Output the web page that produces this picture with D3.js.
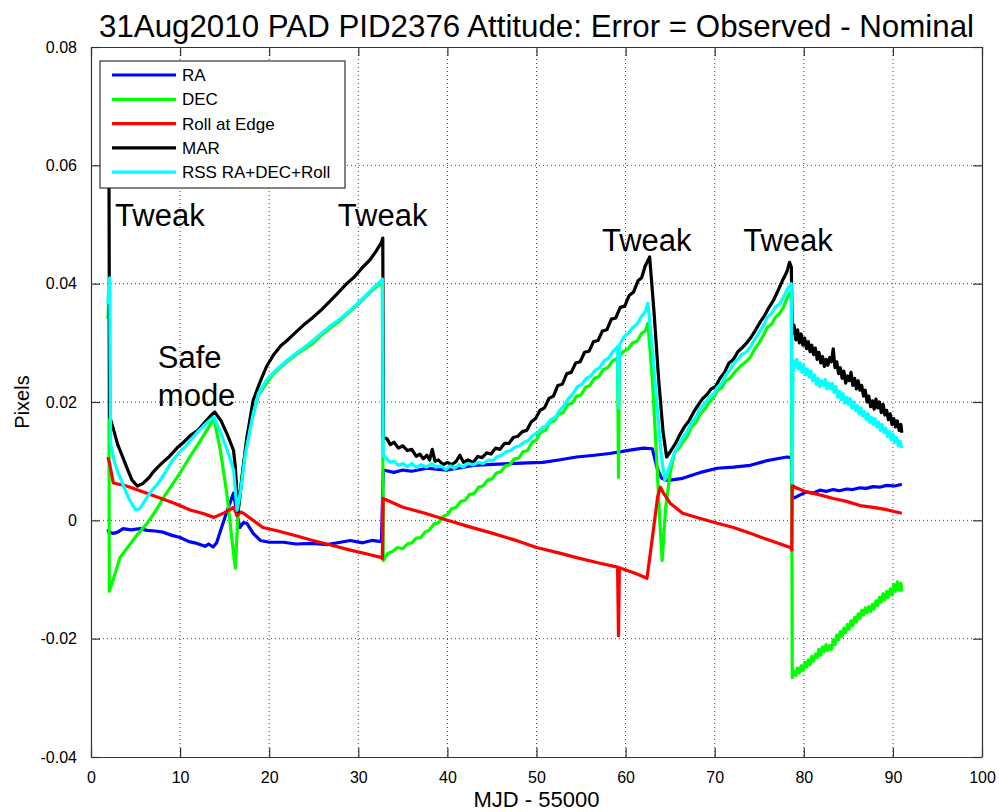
<!DOCTYPE html>
<html>
<head>
<meta charset="utf-8">
<script src="https://cdn.jsdelivr.net/npm/d3@7"></script>
<style>
  html, body { margin: 0; padding: 0; background: #fff; }
  svg { display: block; }
  text { font-family: "Liberation Sans", Arial, Helvetica, sans-serif; }
</style>
</head>
<body>
<svg id="chart" width="999" height="812"></svg>
<script>
// ---------------- data (day = MJD - 55000, value in pixels) ----------------
const titleText = "31Aug2010 PAD PID2376 Attitude: Error = Observed - Nominal";
const xLabel = "MJD - 55000";
const yLabel = "Pixels";
const xTicks = [0, 10, 20, 30, 40, 50, 60, 70, 80, 90, 100];
const yTicks = [-0.04, -0.02, 0, 0.02, 0.04, 0.06, 0.08];
const yTickLabels = ["-0.04", "-0.02", "0", "0.02", "0.04", "0.06", "0.08"];

const seriesNames = ["RA", "DEC", "Roll at Edge", "MAR", "RSS RA+DEC+Roll"];
const seriesColors = ["#0000ff", "#00ff00", "#ff0000", "#000000", "#00ffff"];

const raData = [[1.9,-0.0015],[2.0,-0.0020],[2.5,-0.0022],[3.0,-0.0020],[3.6,-0.0014],[4.5,-0.0016],[5.5,-0.0014],[6.3,-0.0017],[7.2,-0.0018],[8.1,-0.0020],[9.0,-0.0025],[10.0,-0.0029],[11.0,-0.0036],[11.9,-0.0039],[12.8,-0.0044],[13.2,-0.0040],[13.7,-0.0045],[14.1,-0.0038],[14.7,-0.0010],[15.3,0.0017],[16.0,0.0046],[16.4,0.0010],[16.7,-0.0012],[17.1,-0.0004],[17.5,-0.0005],[18.2,-0.0022],[19.0,-0.0034],[20.0,-0.0037],[21.6,-0.0037],[23.0,-0.0040],[24.9,-0.0039],[26.5,-0.0041],[28.0,-0.0037],[29.1,-0.0034],[30.5,-0.0038],[31.5,-0.0034],[32.6,-0.0036],[32.8,0.0085],[34.0,0.0081],[35.0,0.0085],[36.0,0.0083],[37.7,0.0088],[39.0,0.0086],[40.0,0.0085],[41.5,0.0089],[42.9,0.0093],[44.5,0.0094],[47.0,0.0096],[49.0,0.0097],[50.7,0.0098],[52.5,0.0102],[54.5,0.0107],[56.5,0.0110],[58.2,0.0113],[59.5,0.0116],[61.0,0.0120],[62.0,0.0122],[63.0,0.0121],[63.5,0.0090],[64.0,0.0072],[64.5,0.0068],[65.0,0.0068],[66.4,0.0071],[68.4,0.0081],[70.3,0.0088],[72.1,0.0090],[74.0,0.0093],[75.9,0.0101],[77.0,0.0104],[78.1,0.0107],[78.6,0.0106],[78.7,0.0037],[79.2,0.0040],[80.3,0.0048],[81.0,0.0046],[81.8,0.0051],[82.5,0.0049],[83.3,0.0052],[84.0,0.0050],[84.8,0.0053],[85.5,0.0052],[86.3,0.0055],[87.0,0.0054],[87.8,0.0057],[88.5,0.0056],[89.3,0.0059],[90.2,0.0058],[91.0,0.0061]];

const decData = [[1.9,0.0340],[2.0,0.0375],[2.05,-0.0120],[2.5,-0.0100],[3.25,-0.0063],[4.0,-0.0048],[5.0,-0.0028],[6.3,-0.0005],[7.3,0.0017],[8.2,0.0040],[9.1,0.0060],[10.0,0.0080],[11.0,0.0105],[12.0,0.0128],[12.9,0.0150],[13.8,0.0172],[14.5,0.0120],[15.3,0.0039],[15.8,-0.0030],[16.2,-0.0081],[16.5,0.0010],[17.0,0.0080],[17.5,0.0140],[18.2,0.0178],[18.8,0.0212],[19.7,0.0232],[20.5,0.0248],[21.2,0.0258],[22.0,0.0268],[23.0,0.0280],[24.0,0.0290],[24.9,0.0299],[26.0,0.0315],[27.0,0.0327],[27.9,0.0337],[28.7,0.0348],[29.6,0.0360],[30.5,0.0373],[31.5,0.0388],[32.6,0.0402],[32.7,0.0404],
  [32.8,-0.0068],[33.3,-0.0056],[33.9,-0.0052],[34.4,-0.0046],[35.0,-0.0048],[35.5,-0.0040],[36.0,-0.0038],[36.5,-0.0030],[37.0,-0.0029],[37.5,-0.0020],[38.0,-0.0016],[38.5,-0.0006],[39.0,-0.0004],[39.5,0.0006],[40.0,0.0010],[40.5,0.0020],[41.0,0.0022],[41.5,0.0032],[42.0,0.0034],[42.5,0.0044],[43.0,0.0045],[43.5,0.0056],[44.0,0.0058],[44.5,0.0068],[45.0,0.0070],[45.5,0.0080],[46.0,0.0082],[46.5,0.0092],[47.0,0.0094],[47.5,0.0104],[48.0,0.0105],[48.5,0.0116],[49.0,0.0118],[49.5,0.0132],[50.0,0.0136],[50.5,0.0150],[51.0,0.0152],[51.5,0.0166],[52.0,0.0168],[52.5,0.0180],[53.0,0.0182],[53.5,0.0196],[54.0,0.0198],[54.5,0.0210],[55.0,0.0212],[55.5,0.0225],[56.0,0.0228],[56.5,0.0240],[57.0,0.0243],[57.5,0.0255],[58.0,0.0258],[58.5,0.0269],[59.1,0.0274],[59.2,0.0073],[59.3,0.0278],[59.8,0.0286],[60.3,0.0290],[60.8,0.0300],[61.3,0.0303],[61.8,0.0316],[62.2,0.0320],[62.5,0.0333],
  [63.0,0.0240],[63.5,0.0100],[63.8,0.0010],[64.1,-0.0068],[64.5,0.0022],[65.0,0.0080],[65.5,0.0115],[66.0,0.0122],[66.4,0.0132],[66.9,0.0142],[67.4,0.0158],[67.9,0.0166],[68.4,0.0180],[68.9,0.0188],[69.4,0.0200],[69.9,0.0208],[70.3,0.0220],[70.8,0.0224],[71.2,0.0235],[71.7,0.0240],[72.1,0.0248],[72.6,0.0256],[73.0,0.0262],[73.5,0.0268],[74.0,0.0276],[74.5,0.0290],[75.0,0.0300],[75.5,0.0314],[75.9,0.0326],[76.4,0.0332],[76.8,0.0343],[77.3,0.0350],[77.7,0.0360],[78.2,0.0378],[78.6,0.0389],
  [78.7,-0.0266],[78.9,-0.0255],[79.1,-0.0262],[79.3,-0.0250],[79.5,-0.0258],[79.7,-0.0246],[79.9,-0.0254],[80.1,-0.0240],[80.3,-0.0248],[80.5,-0.0236],[80.7,-0.0244],[80.9,-0.0230],[81.1,-0.0238],[81.3,-0.0226],[81.5,-0.0232],[81.7,-0.0218],[81.9,-0.0228],[82.1,-0.0214],[82.3,-0.0222],[82.5,-0.0210],[82.7,-0.0220],[82.9,-0.0212],[83.1,-0.0218],[83.3,-0.0202],[83.5,-0.0210],[83.7,-0.0194],[83.9,-0.0202],[84.1,-0.0188],[84.3,-0.0196],[84.5,-0.0182],[84.7,-0.0190],[84.9,-0.0176],[85.1,-0.0184],[85.3,-0.0170],[85.5,-0.0178],[85.7,-0.0164],[85.9,-0.0172],[86.1,-0.0158],[86.3,-0.0166],[86.5,-0.0152],[86.7,-0.0160],[86.9,-0.0148],[87.1,-0.0156],[87.3,-0.0146],[87.5,-0.0154],[87.7,-0.0142],[87.9,-0.0150],[88.1,-0.0136],[88.3,-0.0144],[88.5,-0.0130],[88.7,-0.0138],[88.9,-0.0124],[89.1,-0.0134],[89.3,-0.0120],[89.5,-0.0130],[89.7,-0.0116],[89.9,-0.0126],[90.1,-0.0108],[90.3,-0.0120],[90.5,-0.0104],[90.7,-0.0118],[90.9,-0.0106],[91.0,-0.0120]];

const rollData = [[1.9,0.0107],[2.1,0.0095],[2.5,0.0063],[4.0,0.0058],[5.5,0.0050],[7.5,0.0039],[9.5,0.0028],[11.2,0.0017],[12.5,0.0012],[13.8,0.0005],[15.0,0.0013],[16.0,0.0022],[16.4,0.0008],[16.8,0.0014],[17.1,0.0012],[18.2,0.0000],[19.3,-0.0012],[21.0,-0.0018],[23.0,-0.0026],[24.9,-0.0034],[27.0,-0.0042],[29.0,-0.0050],[31.0,-0.0057],[32.6,-0.0063],[32.7,-0.0065],[32.8,0.0037],[35.0,0.0022],[37.5,0.0012],[40.0,0.0000],[42.5,-0.0011],[45.1,-0.0022],[47.5,-0.0033],[50.0,-0.0046],[52.5,-0.0055],[54.5,-0.0063],[57.0,-0.0072],[59.1,-0.0079],[59.2,-0.0195],[59.3,-0.0080],[61.0,-0.0089],[62.4,-0.0098],[63.0,-0.0030],[63.6,0.0040],[63.9,0.0056],[64.3,0.0045],[65.0,0.0029],[66.4,0.0012],[68.4,0.0003],[70.3,-0.0005],[72.1,-0.0012],[74.0,-0.0022],[76.0,-0.0033],[78.5,-0.0046],[78.65,-0.0050],[78.7,0.0060],[79.0,0.0056],[80.3,0.0048],[81.8,0.0043],[83.3,0.0037],[84.8,0.0032],[86.3,0.0025],[87.8,0.0022],[89.3,0.0018],[91.0,0.0012]];

const marData = [[1.9,0.0750],[2.0,0.0700],[2.05,0.0400],[2.1,0.0175],[2.5,0.0155],[3.0,0.0128],[3.4,0.0113],[4.0,0.0090],[4.6,0.0068],[5.2,0.0058],[5.8,0.0062],[6.5,0.0072],[7.0,0.0082],[7.5,0.0090],[8.2,0.0100],[8.8,0.0108],[9.7,0.0123],[10.4,0.0132],[11.2,0.0144],[12.0,0.0152],[12.8,0.0166],[13.5,0.0178],[13.9,0.0183],[14.6,0.0168],[15.3,0.0145],[16.0,0.0118],[16.2,0.0090],[16.5,0.0015],[17.0,0.0080],[17.5,0.0140],[18.2,0.0203],[19.0,0.0235],[19.7,0.0260],[20.5,0.0280],[21.3,0.0295],[22.0,0.0304],[23.0,0.0318],[24.0,0.0332],[24.9,0.0343],[25.8,0.0355],[26.8,0.0370],[27.7,0.0384],[28.7,0.0400],[29.6,0.0412],[30.5,0.0428],[31.3,0.0440],[32.0,0.0455],[32.6,0.0470],[32.75,0.0477],
  [32.8,0.0140],[33.2,0.0138],[33.6,0.0128],[34.0,0.0132],[34.5,0.0122],[35.0,0.0126],[35.5,0.0118],[36.0,0.0120],[36.5,0.0108],[36.9,0.0112],[37.3,0.0104],[37.7,0.0110],[38.0,0.0102],[38.3,0.0120],[38.6,0.0100],[39.0,0.0102],[39.5,0.0094],[40.0,0.0098],[40.5,0.0094],[41.0,0.0100],[41.4,0.0110],[41.8,0.0098],[42.3,0.0102],[42.9,0.0098],[43.4,0.0108],[43.9,0.0106],[44.4,0.0114],[44.9,0.0112],[45.4,0.0122],[45.9,0.0120],[46.4,0.0130],[46.9,0.0130],[47.4,0.0140],[47.9,0.0142],[48.4,0.0150],[48.9,0.0152],[49.4,0.0166],[49.9,0.0172],[50.4,0.0186],[50.9,0.0190],[51.4,0.0206],[51.9,0.0210],[52.4,0.0228],[52.9,0.0230],[53.4,0.0248],[53.9,0.0250],[54.4,0.0266],[54.9,0.0268],[55.4,0.0284],[55.9,0.0286],[56.4,0.0302],[56.9,0.0304],[57.4,0.0320],[57.9,0.0322],[58.4,0.0340],[58.9,0.0342],[59.4,0.0360],[59.9,0.0362],[60.4,0.0380],[60.9,0.0386],[61.4,0.0405],[61.8,0.0410],[62.2,0.0430],[62.7,0.0445],
  [63.2,0.0350],[63.7,0.0240],[64.2,0.0150],[64.6,0.0107],[65.1,0.0118],[65.6,0.0130],[66.1,0.0145],[66.6,0.0158],[67.1,0.0168],[67.6,0.0182],[68.1,0.0194],[68.6,0.0205],[69.1,0.0212],[69.6,0.0222],[70.1,0.0226],[70.6,0.0240],[71.1,0.0250],[71.6,0.0266],[72.1,0.0272],[72.6,0.0285],[73.1,0.0292],[73.6,0.0300],[74.1,0.0310],[74.6,0.0322],[75.1,0.0335],[75.6,0.0346],[76.1,0.0360],[76.6,0.0372],[77.1,0.0388],[77.6,0.0405],[78.1,0.0420],[78.4,0.0436],[78.6,0.0428],
  [78.7,0.0316],[78.9,0.0330],[79.1,0.0305],[79.3,0.0322],[79.5,0.0300],[79.7,0.0315],[79.9,0.0296],[80.1,0.0308],[80.3,0.0290],[80.5,0.0302],[80.7,0.0285],[80.9,0.0296],[81.1,0.0280],[81.3,0.0291],[81.5,0.0272],[81.7,0.0284],[81.9,0.0266],[82.1,0.0277],[82.3,0.0260],[82.5,0.0272],[82.7,0.0262],[82.9,0.0275],[83.1,0.0268],[83.3,0.0290],[83.5,0.0258],[83.7,0.0268],[83.9,0.0248],[84.1,0.0258],[84.3,0.0240],[84.5,0.0252],[84.7,0.0232],[84.9,0.0244],[85.1,0.0236],[85.3,0.0250],[85.5,0.0228],[85.7,0.0240],[85.9,0.0222],[86.1,0.0236],[86.3,0.0220],[86.5,0.0228],[86.7,0.0210],[86.9,0.0220],[87.1,0.0200],[87.3,0.0210],[87.5,0.0192],[87.7,0.0202],[87.9,0.0188],[88.1,0.0205],[88.3,0.0190],[88.5,0.0200],[88.7,0.0182],[88.9,0.0196],[89.1,0.0178],[89.3,0.0186],[89.5,0.0170],[89.7,0.0180],[89.9,0.0162],[90.1,0.0172],[90.3,0.0158],[90.5,0.0168],[90.7,0.0152],[90.9,0.0162],[91.0,0.0148]];

const rssData = [[1.9,0.0365],[2.0,0.0395],[2.1,0.0410],[2.2,0.0130],[2.6,0.0100],[3.0,0.0082],[3.4,0.0068],[4.0,0.0045],[4.5,0.0030],[5.0,0.0018],[5.5,0.0020],[6.0,0.0032],[6.8,0.0050],[7.5,0.0062],[8.3,0.0080],[9.0,0.0098],[9.8,0.0113],[10.6,0.0125],[11.3,0.0138],[12.0,0.0150],[12.8,0.0162],[13.4,0.0170],[13.8,0.0175],[14.5,0.0150],[15.3,0.0118],[16.0,0.0085],[16.4,0.0017],[16.8,0.0050],[17.3,0.0110],[17.8,0.0150],[18.2,0.0180],[18.8,0.0215],[19.7,0.0237],[20.5,0.0250],[21.2,0.0260],[22.0,0.0270],[23.0,0.0282],[24.0,0.0293],[24.9,0.0304],[26.0,0.0318],[27.0,0.0330],[27.9,0.0340],[28.7,0.0350],[29.6,0.0362],[30.5,0.0375],[31.5,0.0390],[32.6,0.0406],[32.7,0.0408],
  [32.8,0.0110],[33.2,0.0104],[33.6,0.0098],[34.0,0.0100],[34.5,0.0093],[35.0,0.0096],[35.5,0.0090],[36.0,0.0096],[36.5,0.0089],[37.0,0.0094],[37.7,0.0090],[38.2,0.0096],[38.7,0.0090],[39.3,0.0092],[39.8,0.0086],[40.3,0.0092],[40.8,0.0088],[41.3,0.0094],[41.8,0.0090],[42.3,0.0096],[42.9,0.0094],[43.5,0.0098],[44.0,0.0096],[44.6,0.0102],[45.1,0.0101],[45.6,0.0108],[46.1,0.0110],[46.6,0.0116],[47.1,0.0118],[47.6,0.0124],[48.1,0.0126],[48.6,0.0132],[49.1,0.0135],[49.6,0.0144],[50.1,0.0148],[50.6,0.0156],[51.1,0.0160],[51.6,0.0170],[52.1,0.0174],[52.6,0.0186],[53.1,0.0194],[53.6,0.0206],[54.1,0.0214],[54.6,0.0226],[55.1,0.0230],[55.6,0.0240],[56.1,0.0244],[56.6,0.0254],[57.1,0.0258],[57.6,0.0270],[58.1,0.0274],[58.6,0.0286],[59.1,0.0293],[59.2,0.0190],[59.3,0.0296],[59.8,0.0310],[60.3,0.0316],[60.8,0.0326],[61.3,0.0332],[61.8,0.0345],[62.2,0.0352],[62.5,0.0367],
  [63.0,0.0290],[63.5,0.0200],[64.0,0.0110],[64.4,0.0068],[64.8,0.0085],[65.5,0.0115],[66.0,0.0128],[66.4,0.0140],[66.9,0.0150],[67.4,0.0165],[67.9,0.0175],[68.4,0.0190],[68.9,0.0198],[69.4,0.0208],[69.9,0.0214],[70.3,0.0225],[70.8,0.0232],[71.2,0.0245],[71.7,0.0254],[72.1,0.0265],[72.6,0.0272],[73.0,0.0280],[73.5,0.0284],[74.0,0.0293],[74.5,0.0306],[75.0,0.0318],[75.5,0.0330],[75.9,0.0343],[76.4,0.0350],[76.8,0.0360],[77.3,0.0366],[77.7,0.0377],[78.2,0.0392],[78.6,0.0400],[78.7,0.0063],
  [78.8,0.0270],[79.0,0.0258],[79.2,0.0272],[79.4,0.0256],[79.6,0.0266],[79.8,0.0250],[80.0,0.0262],[80.2,0.0246],[80.4,0.0256],[80.6,0.0242],[80.8,0.0252],[81.0,0.0236],[81.2,0.0246],[81.4,0.0230],[81.6,0.0240],[81.8,0.0226],[82.0,0.0236],[82.2,0.0228],[82.4,0.0238],[82.6,0.0222],[82.8,0.0232],[83.0,0.0222],[83.2,0.0232],[83.4,0.0216],[83.6,0.0226],[83.8,0.0208],[84.0,0.0218],[84.2,0.0204],[84.4,0.0214],[84.6,0.0198],[84.8,0.0208],[85.0,0.0196],[85.2,0.0206],[85.4,0.0190],[85.6,0.0200],[85.8,0.0186],[86.0,0.0194],[86.2,0.0180],[86.4,0.0190],[86.6,0.0176],[86.8,0.0184],[87.0,0.0170],[87.2,0.0180],[87.4,0.0166],[87.6,0.0174],[87.8,0.0162],[88.0,0.0172],[88.2,0.0158],[88.4,0.0166],[88.6,0.0152],[88.8,0.0162],[89.0,0.0148],[89.2,0.0156],[89.4,0.0142],[89.6,0.0150],[89.8,0.0136],[90.0,0.0146],[90.2,0.0132],[90.4,0.0140],[90.6,0.0126],[90.8,0.0134],[91.0,0.0122]];

const annotationTexts = ["Tweak", "Tweak", "Tweak", "Tweak", "Safe", "mode"];
const annotationDays = [2.7, 27.7, 57.35, 73.2, 7.5, 7.5];
const annotationVals = [0.0497, 0.0497, 0.0456, 0.0456, 0.0257, 0.0194];

// ---------------- drawing ----------------
const allSeries = [raData, decData, rollData, marData, rssData];
const svg = d3.select("#chart");
const M = { left: 91, right: 982, top: 47, bottom: 757 };

const x = d3.scaleLinear().domain([0, 100]).range([M.left, M.right]);
const y = d3.scaleLinear().domain([-0.04, 0.08]).range([M.bottom, M.top]);

// grid
const grid = svg.append("g");
xTicks.slice(1, -1).forEach(t => {
  grid.append("line").attr("x1", x(t)).attr("x2", x(t)).attr("y1", M.top).attr("y2", M.bottom)
    .attr("stroke", "#444").attr("stroke-width", 1).attr("stroke-dasharray", "1,3");
});
yTicks.slice(1, -1).forEach(t => {
  grid.append("line").attr("x1", M.left).attr("x2", M.right).attr("y1", y(t)).attr("y2", y(t))
    .attr("stroke", "#444").attr("stroke-width", 1).attr("stroke-dasharray", "1,3");
});

// axes (ticks inside, box)
const tickLen = 9;
const xAxisB = d3.axisBottom(x).tickValues(xTicks).tickSizeInner(-tickLen).tickSizeOuter(0).tickPadding(tickLen + 6).tickFormat(d3.format("d"));
const xAxisT = d3.axisTop(x).tickValues(xTicks).tickSizeInner(-tickLen).tickSizeOuter(0).tickFormat("");
const yAxisL = d3.axisLeft(y).tickValues(yTicks).tickSizeInner(-tickLen).tickSizeOuter(0).tickPadding(tickLen + 5)
  .tickFormat(d => yTickLabels[yTicks.indexOf(d)]);
const yAxisR = d3.axisRight(y).tickValues(yTicks).tickSizeInner(-tickLen).tickSizeOuter(0).tickFormat("");

function styleAxis(g) {
  g.select(".domain").attr("stroke", "#333").attr("stroke-width", 1.2);
  g.selectAll(".tick line").attr("stroke", "#333").attr("stroke-width", 1.2);
  g.selectAll(".tick text").attr("fill", "#000").style("font-size", "16px")
    .style("font-family", "'Liberation Sans Narrow', 'Liberation Sans', Arial, sans-serif");
}

// lines
const line = d3.line().x(d => x(d[0])).y(d => y(d[1]));
const linesG = svg.append("g");
allSeries.forEach((data, i) => {
  linesG.append("path").datum(data).attr("d", line)
    .attr("fill", "none").attr("stroke", seriesColors[i]).attr("stroke-width", 3.2)
    .attr("stroke-linejoin", "round").attr("stroke-linecap", "butt");
});

svg.append("g").attr("transform", `translate(0,${M.bottom})`).call(xAxisB).call(styleAxis);
svg.append("g").attr("transform", `translate(0,${M.top})`).call(xAxisT).call(styleAxis);
svg.append("g").attr("transform", `translate(${M.left},0)`).call(yAxisL).call(styleAxis);
svg.append("g").attr("transform", `translate(${M.right},0)`).call(yAxisR).call(styleAxis);

// annotations
annotationTexts.forEach((t, i) => {
  svg.append("text").attr("x", x(annotationDays[i])).attr("y", y(annotationVals[i]))
    .style("font-size", "31px").attr("fill", "#000").text(t);
});

// legend
const lg = svg.append("g");
lg.append("rect").attr("x", 100).attr("y", 61).attr("width", 245).attr("height", 127)
  .attr("fill", "#fff").attr("stroke", "#333").attr("stroke-width", 1.2);
seriesNames.forEach((name, i) => {
  const cy = 75 + i * 24.3;
  lg.append("line").attr("x1", 112).attr("x2", 176).attr("y1", cy).attr("y2", cy)
    .attr("stroke", seriesColors[i]).attr("stroke-width", 3.2);
  lg.append("text").attr("x", 182).attr("y", cy + 6).style("font-size", "17px").attr("fill", "#000").text(name);
});

// title & labels
svg.append("text").attr("x", (M.left + M.right) / 2).attr("y", 37).attr("text-anchor", "middle")
  .style("font-size", "32px").attr("fill", "#000")
  .attr("textLength", 875).attr("lengthAdjust", "spacingAndGlyphs").text(titleText);
svg.append("text").attr("x", (M.left + M.right) / 2).attr("y", 807).attr("text-anchor", "middle")
  .style("font-size", "22px").attr("fill", "#000").text(xLabel);
svg.append("text").attr("transform", `translate(29,${(M.top + M.bottom) / 2}) rotate(-90)`)
  .attr("text-anchor", "middle").style("font-size", "20px").attr("fill", "#000").text(yLabel);
</script>
</body>
</html>
